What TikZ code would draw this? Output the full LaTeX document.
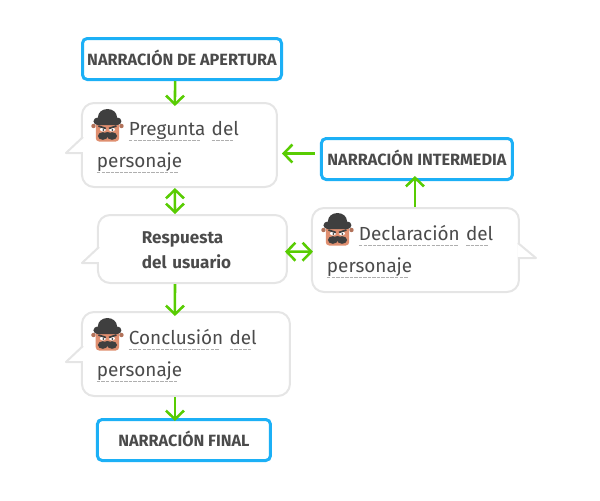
\documentclass[tikz,border=0pt]{standalone}
\usepackage{fontspec}
\setmainfont{Fira Sans}
\usetikzlibrary{arrows.meta, positioning}

\definecolor{inktext}{HTML}{4B4B4B}
\definecolor{skyline}{HTML}{1CB0F6}
\definecolor{bubbleline}{HTML}{E5E5E5}
\definecolor{dashgrey}{HTML}{AFAFAF}
\definecolor{leafgreen}{HTML}{58CC02}
\definecolor{skin}{HTML}{DF8F70}
\definecolor{hat}{HTML}{3F3F3F}

\newsavebox{\wordbox}
\newcommand{\dashword}[1]{\sbox{\wordbox}{#1}\leavevmode\rlap{\textcolor{dashgrey}{\raisebox{-3.6pt}{\leaders\hbox{\rule{2.6pt}{.75pt}\kern.8pt}\hskip\wd\wordbox}}}\usebox{\wordbox}}
\newcommand{\lowerline}[1]{\rule{0pt}{#1}}
\newcommand{\tailleft}[2]{\draw[tail] ([shift={(2,#2-16)}]#1.west) -- ([shift={(-15,#2)}]#1.west) -- ([shift={(2,#2)}]#1.west);}
\newcommand{\tailright}[2]{\draw[tail] ([shift={(-2,#2-15)}]#1.east) -- ([shift={(16,#2)}]#1.east) -- ([shift={(-2,#2)}]#1.east);}

\tikzset{
    narration/.style 2 args={rectangle, draw=skyline, line width=2.25pt, rounded corners=3.5pt, fill=white, text=inktext, font=\fontsize{12.2}{14}\selectfont\bfseries, text height=10pt, text depth=0pt, minimum width=#1*.75pt, minimum height=#2*.75pt, inner sep=0pt},
    bubble/.style 2 args={rectangle, draw=bubbleline, line width=1.5pt, rounded corners=9pt, fill=white, text=inktext, font=\fontsize{14.2}{24}\selectfont, align=left, inner xsep=11.25pt, inner ysep=0pt, text width=(#1-30)*.75pt, minimum height=#2*.75pt},
    tail/.style={draw=bubbleline, line width=1.5pt, line join=round, fill=white},
    arrow/.style={line width=1.9pt, draw=leafgreen, >={Straight Barb[length=6.5pt,width=13.5pt]}},
    face/.pic={
        \fill[skin!80!black] (-14,17) circle (2.2) (14,17) circle (2.2);
        \fill[skin, rounded corners=2.5pt] (-11.7,11) rectangle (11.7,32.5);
        \fill[hat] (0,8) ellipse (9.5 and 8);
        \fill[hat, rounded corners=3pt] (-14,8.5) rectangle (14,16);
        \fill[white] (-4.5,20.5) ellipse (3 and 2) (4.5,20.5) ellipse (3 and 2);
        \fill[hat] (-4,21) circle (1) (5,21) circle (1);
        \draw[hat, line width=1.3pt] (-9,17) -- (-1.5,19.5) (9,17) -- (1.5,19.5);
        \fill[hat] (-4.6,27) ellipse (5 and 3.8) (4.6,27) ellipse (5 and 3.8) (0,25.5) ellipse (4 and 2.5);
    }
}

\begin{document}
\begin{tikzpicture}[x=.75pt, y=-.75pt]

\useasboundingbox (0,0) rectangle (600,500);

\node[narration={199}{41}] (apertura) at (182,59) {NARRACIÓN DE APERTURA};
\node[bubble={195}{84}, below=15.75pt of apertura, xshift=-1.9pt] (pregunta) {\lowerline{14pt}\hspace*{24pt}\dashword{Pregunta} \dashword{del}\\\dashword{personaje}};
\node[bubble={189}{68}, below=19.5pt of pregunta, xshift=9.75pt, inner xsep=33pt, text width=(189-88)*.75pt, font=\fontsize{12.8}{18.75}\selectfont\bfseries] (respuesta) {\lowerline{11pt}Respuesta\\del usuario};
\node[bubble={208}{84}, below=20.25pt of respuesta, xshift=-4.9pt] (conclusion) {\lowerline{14pt}\hspace*{24pt}\dashword{Conclusión} \dashword{del}\\\dashword{personaje}};
\node[narration={173}{41}, below=15.75pt of conclusion, xshift=-1.5pt] (final) {NARRACIÓN FINAL};
\node[bubble={207}{84}, right=17.25pt of respuesta, yshift=-.75pt] (declaracion) {\lowerline{14pt}\hspace*{24pt}\dashword{Declaración} \dashword{del}\\\dashword{personaje}};
\node[narration={191}{41}, above=19.5pt of declaracion, xshift=1.1pt] (intermedia) {NARRACIÓN INTERMEDIA};

\tailleft{pregunta}{8}
\tailleft{respuesta}{14}
\tailleft{conclusion}{8}
\tailright{declaracion}{8}

\pic at ([shift={(26.5,7)}]pregunta.north west) {face};
\pic at ([shift={(26.5,7)}]conclusion.north west) {face};
\pic at ([shift={(26.5,6)}]declaracion.north west) {face};

\draw[arrow, ->] ([xshift=-5.2pt]apertura.south) -- ([shift={(-3.4pt,-3pt)}]pregunta.north);
\draw[arrow, <->] ([xshift=-3.4pt]pregunta.south) -- ([xshift=-13.1pt]respuesta.north);
\draw[arrow, ->] ([xshift=-13.1pt]respuesta.south) -- ([shift={(-8.25pt,-3.75pt)}]conclusion.north);
\draw[arrow, ->] ([xshift=-8.25pt]conclusion.south) -- ([shift={(-6.75pt,-2.25pt)}]final.north);
\draw[arrow, ->] ([shift={(-3.75pt,4.1pt)}]intermedia.west) -- ([shift={(3pt,-6.4pt)}]pregunta.east);
\draw[arrow, ->] ([xshift=-.4pt]declaracion.north) -- ([shift={(-1.5pt,3.75pt)}]intermedia.south);
\draw[arrow, <->] ([shift={(-2.25pt,-2pt)}]respuesta.east) -- ([shift={(1.5pt,-1.3pt)}]declaracion.west);

\end{tikzpicture}
\end{document}
